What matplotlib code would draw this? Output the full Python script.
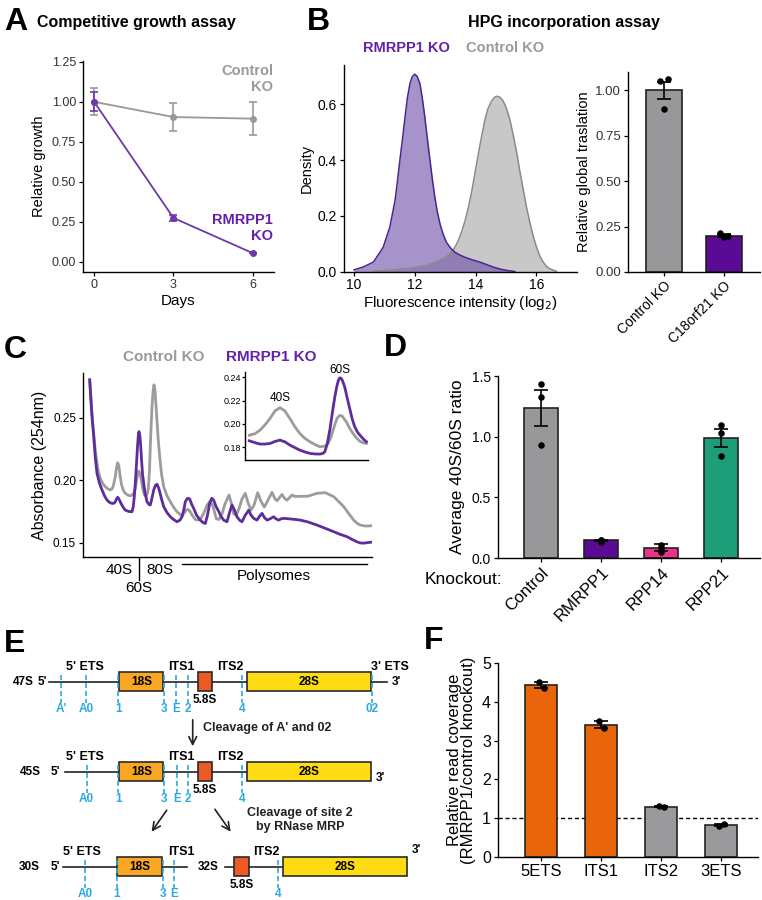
import matplotlib
matplotlib.use("Agg")
import matplotlib.pyplot as plt
import matplotlib.patches as mpatches

plt.rcParams["font.family"] = ["Liberation Sans", "DejaVu Sans"]

W, H = 762, 900

PURPLE = "#5e2c9c"
PURPLE_TXT = "#6420a8"
BLUE = "#2aa9e0"

# ---------------- data ----------------
# A: competitive growth
growth_days = [0, 3, 6]
growth_control = [1.00, 0.905, 0.895]
growth_control_err = [0.085, 0.09, 0.105]
growth_rmrpp1 = [1.00, 0.275, 0.055]
growth_rmrpp1_err = [0.06, 0.02, 0.0]

# B: HPG density
hpg_rmrpp1_x = [10.0, 10.3, 10.64, 10.96, 11.18, 11.35, 11.43, 11.51, 11.6, 11.68, 11.76,
                11.84, 11.92, 12.0, 12.08, 12.17, 12.25, 12.33, 12.41, 12.5, 12.58, 12.66,
                12.74, 12.83, 12.93, 13.04, 13.18, 13.32, 13.5, 13.7, 13.92, 14.14, 14.36,
                14.58, 14.8, 15.02, 15.29]
hpg_rmrpp1_dens = [0.006, 0.016, 0.034, 0.087, 0.16, 0.255, 0.325, 0.40, 0.48, 0.555, 0.625,
                   0.674, 0.700, 0.708, 0.700, 0.674, 0.620, 0.555, 0.480, 0.40, 0.330, 0.267,
                   0.215, 0.171, 0.135, 0.105, 0.084, 0.069, 0.058, 0.049, 0.041, 0.034,
                   0.025, 0.016, 0.009, 0.004, 0.0]
hpg_control_x = [10.64, 11.2, 11.73, 12.05, 12.39, 12.6, 12.83, 13.0, 13.15, 13.3, 13.43, 13.54,
                 13.65, 13.76, 13.87, 13.98, 14.09, 14.2, 14.3, 14.41, 14.52, 14.62, 14.71,
                 14.81, 14.91, 15.02, 15.13, 15.24, 15.35, 15.45, 15.56, 15.67, 15.78, 15.89,
                 16.0, 16.11, 16.22, 16.33, 16.44, 16.66]
hpg_control_dens = [0.001, 0.005, 0.01, 0.015, 0.022, 0.03, 0.04, 0.05, 0.063, 0.083, 0.11,
                    0.142, 0.18, 0.228, 0.285, 0.352, 0.42, 0.485, 0.54, 0.585, 0.61, 0.625,
                    0.629, 0.625, 0.612, 0.585, 0.545, 0.49, 0.43, 0.365, 0.30, 0.235, 0.18,
                    0.13, 0.09, 0.057, 0.035, 0.019, 0.01, 0.001]

# B: global translation bars
translation_groups = ["Control KO", "C18orf21 KO"]
translation_mean = [1.00, 0.20]
translation_sem = [0.047, 0.008]
translation_points = [[1.05, 1.061, 0.894], [0.215, 0.198, 0.19]]
translation_colors = ["#98989b", "#5b0a96"]

# C: polysome profiles (fraction position, absorbance)
profile_control_pos = [6.7, 8, 9.3, 10.7, 12.3, 14, 15.5, 17.3, 20, 22.3, 25, 27.3, 29, 30.5,
                       32.3, 33.5, 34.7, 35.9, 37, 38.5, 40.5, 42.3, 45, 47, 49, 51, 52.5, 53.8,
                       55, 55.7, 56.6, 58, 60, 61.5, 63, 64.5, 65.5, 66.5, 67.3, 68.2, 69, 70,
                       71, 72, 73.3, 75, 76.7, 78.5, 80.7, 84, 87.3, 90.5, 94, 99, 101, 103,
                       105, 107, 109.5, 112.3, 115, 118, 121, 124, 127.3, 130, 133.3, 136, 139,
                       142, 146, 148.5, 150.7, 153, 156, 159, 162.3, 165, 168, 171, 174.7, 178,
                       181.3, 185, 189, 192, 194, 196.5, 199, 201.5, 204, 206.5, 209, 212, 215,
                       225, 234, 242.3, 250.7, 255.5, 260.7, 265.5, 270.7, 274, 277.3, 283, 289]
profile_control_abs = [0.2805, 0.265, 0.250, 0.2377, 0.224, 0.2136, 0.2065, 0.2015, 0.1970,
                       0.1948, 0.1930, 0.1922, 0.1930, 0.1960, 0.2029, 0.2100, 0.2141, 0.2110,
                       0.2040, 0.1965, 0.1915, 0.1895, 0.1880, 0.1875, 0.1880, 0.1900, 0.1940,
                       0.2010, 0.2060, 0.2074, 0.2060, 0.2015, 0.1922, 0.1880, 0.1870, 0.1895,
                       0.1950, 0.2080, 0.2270, 0.2450, 0.2590, 0.2710, 0.2765, 0.2720, 0.2564,
                       0.2350, 0.2189, 0.2050, 0.1948, 0.1875, 0.1828, 0.1785, 0.1747, 0.1713,
                       0.1735, 0.1760, 0.1765, 0.1750, 0.1715, 0.1685, 0.1680, 0.1695, 0.1740,
                       0.1800, 0.1833, 0.1790, 0.1690, 0.1685, 0.1730, 0.1810, 0.1881, 0.1810,
                       0.1730, 0.1720, 0.1770, 0.1850, 0.1895, 0.1820, 0.1760, 0.1800, 0.1900,
                       0.1830, 0.1785, 0.1840, 0.1903, 0.1850, 0.1835, 0.1860, 0.1886, 0.1855,
                       0.1840, 0.1860, 0.1881, 0.1870, 0.1870, 0.1872, 0.1895, 0.1900, 0.1868,
                       0.1830, 0.1788, 0.1735, 0.1680, 0.1655, 0.1640, 0.1632, 0.1635]
profile_rmrpp1_pos = [6.7, 8, 9.3, 10.7, 12.3, 14, 16.5, 19, 21.5, 24, 26.5, 29, 31, 32.3, 33.5,
                      34.7, 36, 38, 40, 42.3, 45.5, 49, 50.3, 51.3, 52.5, 53.5, 54.5, 55.4, 56,
                      56.8, 57.5, 58.5, 59.5, 60.7, 62, 64, 66, 67.3, 68.8, 70.7, 72.5, 74,
                      75.3, 76.7, 78.5, 80.7, 84, 87.3, 90.5, 94, 97, 99, 101, 102.3, 104.5,
                      106.7, 108.5, 110.7, 113.5, 117.3, 120, 122.3, 124.5, 126.7, 128.7,
                      130.7, 133, 135.7, 138, 140.7, 144, 146.5, 149, 151.5, 154, 156.5, 159,
                      162.3, 165.7, 168, 170.7, 174, 176.5, 179, 181.5, 184, 187, 190.7, 193,
                      195.7, 198, 200.7, 209, 217.3, 225, 234, 242, 250.7, 257, 264, 269, 274,
                      277, 280.7, 285, 289]
profile_rmrpp1_abs = [0.2805, 0.263, 0.248, 0.2350, 0.218, 0.2055, 0.1975, 0.1922, 0.1875,
                      0.1841, 0.1822, 0.1814, 0.1815, 0.1827, 0.1850, 0.1863, 0.1848, 0.1814,
                      0.1785, 0.1760, 0.1750, 0.1747, 0.1790, 0.1868, 0.2000, 0.2130, 0.2270,
                      0.2370, 0.2390, 0.2360, 0.2300, 0.2170, 0.2050, 0.1975, 0.1900, 0.1828,
                      0.1805, 0.1801, 0.1850, 0.1921, 0.1960, 0.1967, 0.1945, 0.1908, 0.1850,
                      0.1788, 0.1740, 0.1707, 0.1685, 0.1667, 0.1680, 0.1707, 0.1770, 0.1828,
                      0.1855, 0.1850, 0.1810, 0.1774, 0.1720, 0.1680, 0.1660, 0.1653, 0.1720,
                      0.1814, 0.1855, 0.1840, 0.1790, 0.1750, 0.1710, 0.1680, 0.1667, 0.1740,
                      0.1801, 0.1760, 0.1707, 0.1680, 0.1667, 0.1720, 0.1760, 0.1720, 0.1694,
                      0.1680, 0.1710, 0.1734, 0.1700, 0.1680, 0.1690, 0.1707, 0.1690, 0.1680,
                      0.1690, 0.1694, 0.1688, 0.1680, 0.1665, 0.1640, 0.1615, 0.1587, 0.1566,
                      0.1547, 0.1525, 0.1506, 0.1497, 0.1495, 0.1500, 0.1503]

# C inset: 40S / 60S zoom
inset_control_pos = [4.3, 10, 15, 20, 25, 30, 35, 40, 45, 50, 55, 60, 65, 70, 75, 80, 83.3,
                     86, 88.3, 90.5, 92.5, 95, 97.5, 100, 101.7, 105, 108.3, 111.5, 115, 118.5,
                     121.7]
inset_control_abs = [0.1902, 0.1915, 0.1945, 0.1990, 0.2045, 0.2110, 0.2139, 0.2110, 0.2045,
                     0.1975, 0.1917, 0.1875, 0.1846, 0.1822, 0.1803, 0.1808, 0.1831, 0.1880,
                     0.1945, 0.2005, 0.2050, 0.2073, 0.2065, 0.2035, 0.2016, 0.1960, 0.1917,
                     0.1880, 0.1851, 0.1836, 0.1831]
inset_rmrpp1_pos = [4.3, 10, 15, 20, 25, 30, 35, 40, 45, 50, 55, 60, 65, 70, 75, 78, 80, 82.5,
                    85, 87.5, 90, 92, 93.5, 95, 96.5, 98, 100, 102.5, 105, 107.5, 110, 113,
                    116.7, 119, 121.7]
inset_rmrpp1_abs = [0.1854, 0.1838, 0.1826, 0.1826, 0.1831, 0.1848, 0.1860, 0.1845, 0.1817,
                    0.1795, 0.1774, 0.1758, 0.1746, 0.1741, 0.1740, 0.1745, 0.1760, 0.1830,
                    0.1945, 0.2090, 0.2230, 0.2320, 0.2370, 0.2395, 0.2390, 0.2365, 0.2315,
                    0.2220, 0.2130, 0.2040, 0.1974, 0.1925, 0.1888, 0.1866, 0.1846]

# D: 40S/60S ratio
ratio_groups = ["Control", "RMRPP1", "RPP14", "RPP21"]
ratio_mean = [1.235, 0.145, 0.085, 0.99]
ratio_sem = [0.15, 0.006, 0.03, 0.076]
ratio_points = [[1.43, 1.323, 0.935], [0.15, 0.135, 0.15], [0.11, 0.08, 0.05],
                [1.095, 1.03, 0.84]]
ratio_colors = ["#98989b", "#5b0a96", "#e8338a", "#1e9e78"]

# F: relative read coverage
coverage_regions = ["5ETS", "ITS1", "ITS2", "3ETS"]
coverage_mean = [4.43, 3.41, 1.30, 0.82]
coverage_sem = [0.07, 0.09, 0.01, 0.03]
coverage_points = [[4.50, 4.36], [3.51, 3.32], [1.31, 1.29], [0.80, 0.86]]
coverage_colors = ["#e8650a", "#e8650a", "#9a9a9d", "#9a9a9d"]

# E: rRNA processing scheme (site names)
sites_47s = ["A'", "A0", "1", "3", "E", "2", "4", "02"]
sites_45s = ["A0", "1", "3", "E", "2", "4"]
sites_30s = ["A0", "1", "3", "E"]
sites_32s = ["4"]


# ---------------- helpers ----------------
def px_axes(fig, left, top, right, bottom):
    return fig.add_axes([left / W, 1 - bottom / H, (right - left) / W, (bottom - top) / H])


def classic(ax, tick_size):
    for side in ["top", "right"]:
        ax.spines[side].set_visible(False)
    for side in ["left", "bottom"]:
        ax.spines[side].set_linewidth(1.0)
    ax.tick_params(direction="out", length=3, width=0.9, labelsize=tick_size, pad=2)


def dot_bars(ax, means, sems, points, colors, width, offsets):
    x = list(range(len(means)))
    ax.bar(x, means, width=width, color=colors, edgecolor="#222222", linewidth=1.2, zorder=2)
    ax.errorbar(x, means, yerr=sems, fmt="none", ecolor="black", elinewidth=1.2,
                capsize=5, capthick=1.2, zorder=3)
    for i, pts in enumerate(points):
        xs = [i + offsets[j % len(offsets)] for j in range(len(pts))]
        ax.scatter(xs, pts, s=22, color="black", zorder=4, linewidths=0)


fig = plt.figure(figsize=(W / 100, H / 100), dpi=100)

# ---------------- A ----------------
ax = px_axes(fig, 83, 61, 274, 272)
classic(ax, 9)
ax.errorbar(growth_days, growth_control, yerr=growth_control_err, color="#999999", lw=1.3,
            marker="o", ms=4, capsize=3, capthick=1.2, elinewidth=1.2)
ax.errorbar(growth_days, growth_rmrpp1, yerr=growth_rmrpp1_err, color="#6a3aa8", lw=1.3,
            marker="o", ms=4, capsize=3, capthick=1.2, elinewidth=1.2)
ax.set_xlim(-0.42, 6.8)
ax.set_ylim(-0.0625, 1.255)
ax.set_xticks(growth_days)
ax.set_yticks([0, 0.25, 0.5, 0.75, 1.0, 1.25])
ax.set_yticklabels(["0.00", "0.25", "0.50", "0.75", "1.00", "1.25"], color="#333333")
ax.set_xticklabels(["0", "3", "6"], color="#333333")
ax.set_xlabel("Days", fontsize=11, labelpad=2)
ax.set_ylabel("Relative growth", fontsize=10.5, labelpad=4)

# ---------------- B density ----------------
ax = px_axes(fig, 344, 65, 577, 271.5)
classic(ax, 10)
ax.fill_between(hpg_control_x, hpg_control_dens, color="#939393", alpha=0.5, lw=0)
ax.plot(hpg_control_x, hpg_control_dens, color="#8a8a8a", lw=1.1)
ax.fill_between(hpg_rmrpp1_x, hpg_rmrpp1_dens, color="#6a4ba5", alpha=0.6, lw=0)
ax.plot(hpg_rmrpp1_x, hpg_rmrpp1_dens, color="#4a2590", lw=1.1)
ax.set_xlim(9.67, 17.34)
ax.set_ylim(0, 0.741)
ax.set_xticks([10, 12, 14, 16])
ax.set_yticks([0, 0.2, 0.4, 0.6])
ax.set_yticklabels(["0.0", "0.2", "0.4", "0.6"])
ax.set_xlabel("Fluorescence intensity (log$_2$)", fontsize=11, labelpad=1)
ax.set_ylabel("Density", fontsize=10.5, labelpad=3)

# ---------------- B bars ----------------
ax = px_axes(fig, 628, 72, 760, 272)
classic(ax, 9.5)
dot_bars(ax, translation_mean, translation_sem, translation_points, translation_colors,
         0.6, [-0.06, 0.06, 0.0])
ax.set_xlim(-0.6, 1.6)
ax.set_ylim(0, 1.10)
ax.set_yticks([0, 0.25, 0.5, 0.75, 1.0])
ax.set_yticklabels(["0.00", "0.25", "0.50", "0.75", "1.00"], color="#333333")
ax.set_xticks([0, 1])
ax.set_xticklabels(translation_groups, rotation=45, ha="right", rotation_mode="anchor",
                   fontsize=10)
ax.set_ylabel("Relative global traslation", fontsize=10.5, labelpad=3)

# ---------------- C ----------------
ax = px_axes(fig, 83, 373, 372, 557)
classic(ax, 8.5)
ax.plot(profile_control_pos, profile_control_abs, color="#9c9c9c", lw=2.0,
        solid_joinstyle="round")
ax.plot(profile_rmrpp1_pos, profile_rmrpp1_abs, color=PURPLE, lw=2.0, solid_joinstyle="round")
ax.set_xlim(0, 289)
ax.set_ylim(0.1384, 0.286)
ax.set_xticks([])
ax.set_yticks([0.15, 0.20, 0.25])
ax.set_yticklabels(["0.15", "0.20", "0.25"])
ax.set_ylabel("Absorbance (254nm)", fontsize=11.5, labelpad=4)

ax = px_axes(fig, 245, 372, 368, 460)
classic(ax, 6.5)
ax.tick_params(length=2, pad=1)
ax.plot(inset_control_pos, inset_control_abs, color="#9c9c9c", lw=2.0, solid_joinstyle="round")
ax.plot(inset_rmrpp1_pos, inset_rmrpp1_abs, color=PURPLE, lw=2.0, solid_joinstyle="round")
ax.set_xlim(0, 123.3)
ax.set_ylim(0.1689, 0.2445)
ax.set_xticks([])
ax.set_yticks([0.18, 0.20, 0.22, 0.24])
ax.set_yticklabels(["0.18", "0.20", "0.22", "0.24"])

# ---------------- D ----------------
ax = px_axes(fig, 498, 376, 760, 558)
classic(ax, 10)
dot_bars(ax, ratio_mean, ratio_sem, ratio_points, ratio_colors, 0.567, [0.0, 0.0, 0.0])
ax.set_xlim(-0.72, 3.65)
ax.set_ylim(0, 1.5)
ax.set_yticks([0, 0.5, 1.0, 1.5])
ax.set_yticklabels(["0.0", "0.5", "1.0", "1.5"])
ax.set_xticks(range(4))
ax.set_xticklabels(ratio_groups, rotation=45, ha="right", rotation_mode="anchor", fontsize=12)
ax.set_ylabel("Average 40S/60S ratio", fontsize=12.5, labelpad=5)

# ---------------- F ----------------
ax = px_axes(fig, 498, 663, 758, 857)
classic(ax, 11.5)
ax.axhline(1, color="black", lw=1.0, ls=(0, (3, 2)), zorder=1)
dot_bars(ax, coverage_mean, coverage_sem, coverage_points, coverage_colors, 0.54,
         [-0.03, 0.05])
ax.set_xlim(-0.72, 3.62)
ax.set_ylim(0, 5)
ax.set_yticks(range(6))
ax.set_xticks(range(4))
ax.set_xticklabels(coverage_regions, fontsize=12)
ax.set_ylabel("Relative read coverage\n(RMRPP1/control knockout)", fontsize=12,
              labelpad=4, linespacing=0.95)

# ---------------- overlay: letters, legends, scheme ----------------
ov = fig.add_axes([0, 0, 1, 1])
ov.set_xlim(0, W)
ov.set_ylim(H, 0)
ov.axis("off")


def t(x, y, s, size=10, weight="normal", color="black", ha="left", va="center", **kw):
    ov.text(x, y, s, fontsize=size, fontweight=weight, color=color, ha=ha, va=va, **kw)


for letter, lx, ly in [("A", 4, 22), ("B", 307, 22), ("C", 4, 350), ("D", 384, 348),
                       ("E", 4, 644), ("F", 424, 641)]:
    t(lx, ly, letter, size=23, weight="bold")

t(37, 23, "Competitive growth assay", size=11.5, weight="bold")
t(564, 23, "HPG incorporation assay", size=11.5, weight="bold", ha="center")
t(363, 48, "RMRPP1 KO", size=10.5, weight="bold", color=PURPLE_TXT)
t(466, 48, "Control KO", size=10.5, weight="bold", color="#9a9a9a")

t(273, 79, "Control\nKO", size=10.5, weight="bold", color="#9a9a9a", ha="right",
  linespacing=1.15)
t(273, 228, "RMRPP1\nKO", size=10.5, weight="bold", color=PURPLE_TXT, ha="right",
  linespacing=1.15)

t(123, 357, "Control KO", size=11, weight="bold", color="#9a9a9a")
t(226, 357, "RMRPP1 KO", size=11, weight="bold", color=PURPLE_TXT)
t(280, 398, "40S", size=8.5, ha="center")
t(340, 370, "60S", size=8.5, ha="center")
t(119, 570, "40S", size=11, ha="center")
t(160, 570, "80S", size=11, ha="center")
t(139, 588, "60S", size=11, ha="center")
ov.plot([139, 139], [558, 580], color="black", lw=1.0)
ov.plot([181.7, 366.7], [564.3, 564.3], color="black", lw=1.0)
t(274, 576, "Polysomes", size=11, ha="center")
t(425, 580, "Knockout:", size=12.5)

# scheme
BOX_COLORS = {"18S": "#f8a623", "5.8S": "#ee5a24", "28S": "#fddc14"}


def box(x0, x1, y, name, label_inside=True):
    h = 19.5
    ov.add_patch(mpatches.Rectangle((x0, y - h / 2), x1 - x0, h, facecolor=BOX_COLORS[name],
                                    edgecolor="#2a2a2a", lw=1.2, zorder=3))
    if label_inside:
        t((x0 + x1) / 2, y, name, size=8.5, weight="bold", ha="center")
    else:
        t((x0 + x1) / 2, y + 18, name, size=8.5, weight="bold", ha="center")


def site(x, y, name, top=-7, bottom=21, label_y=27):
    ov.plot([x, x], [y + top, y + bottom], color=BLUE, lw=1.2, ls=(0, (3, 1.8)), zorder=4)
    t(x, y + label_y, name, size=8.5, weight="bold", color=BLUE, ha="center")


def backbone(x0, x1, y):
    ov.plot([x0, x1], [y, y], color="#222222", lw=1.2, zorder=2)


# 47S
y1 = 681.7
t(23, y1, "47S", size=8.5, weight="bold", ha="center")
t(42, y1, "5'", size=8.5, weight="bold", ha="center")
backbone(49, 387, y1)
t(392, y1, "3'", size=8.5, weight="bold")
box(119.3, 163.3, y1, "18S")
box(197.7, 212.3, y1, "5.8S", label_inside=False)
box(246.7, 371, y1, "28S")
for name, sx in zip(sites_47s, [61, 86, 118.3, 164.3, 175.7, 187.7, 242.3, 371.7]):
    site(sx, y1, name)
for name, rx in [("5' ETS", 85), ("ITS1", 181.7), ("ITS2", 230), ("3' ETS", 390)]:
    t(rx, y1 - 15, name, size=9, weight="bold", ha="center")

ov.annotate("", xy=(192.7, 749), xytext=(192.7, 717),
            arrowprops=dict(arrowstyle="->", lw=1.2, color="#222222", mutation_scale=14))
t(203.3, 728.5, "Cleavage of A' and 02", size=9, weight="bold", color="#222222")

# 45S
y2 = 771.7
t(30, y2, "45S", size=8.5, weight="bold", ha="center")
t(55, y2, "5'", size=8.5, weight="bold", ha="center")
backbone(65, 371, y2)
t(376, y2 + 6, "3'", size=8.5, weight="bold")
box(119.3, 163.3, y2, "18S")
box(197.7, 212.3, y2, "5.8S", label_inside=False)
box(246.7, 371, y2, "28S")
for name, sx in zip(sites_45s, [86.7, 118.3, 164.3, 176.7, 188.3, 242.3]):
    site(sx, y2, name)
for name, rx in [("5' ETS", 85), ("ITS1", 181.7), ("ITS2", 230)]:
    t(rx, y2 - 15, name, size=9, weight="bold", ha="center")

ov.annotate("", xy=(150, 834), xytext=(168.3, 808),
            arrowprops=dict(arrowstyle="->", lw=1.2, color="#222222", mutation_scale=14))
ov.annotate("", xy=(232.3, 834), xytext=(213.3, 807),
            arrowprops=dict(arrowstyle="->", lw=1.2, color="#222222", mutation_scale=14))
t(300, 820, "Cleavage of site 2\nby RNase MRP", size=9, weight="bold", color="#222222",
  ha="center", linespacing=1.2)

# 30S
y3 = 866.7
t(29, y3, "30S", size=8.5, weight="bold", ha="center")
t(55, y3, "5'", size=8.5, weight="bold", ha="center")
backbone(62.7, 186.7, y3)
box(117.3, 162.3, y3, "18S")
for name, sx in zip(sites_30s, [85, 116.7, 163.3, 174]):
    site(sx, y3, name)
for name, rx in [("5' ETS", 82.3), ("ITS1", 181.7)]:
    t(rx, y3 - 15, name, size=9, weight="bold", ha="center")

# 32S
t(208.3, y3, "32S", size=8.5, weight="bold", ha="center")
backbone(225, 283, y3)
box(234, 249, y3, "5.8S", label_inside=False)
box(282.7, 406.7, y3, "28S")
t(412, y3 - 17, "3'", size=8.5, weight="bold")
for name, sx in zip(sites_32s, [278.3]):
    site(sx, y3, name)
t(266.7, y3 - 15, "ITS2", size=9, weight="bold", ha="center")

fig.savefig("out.png", dpi=100)
